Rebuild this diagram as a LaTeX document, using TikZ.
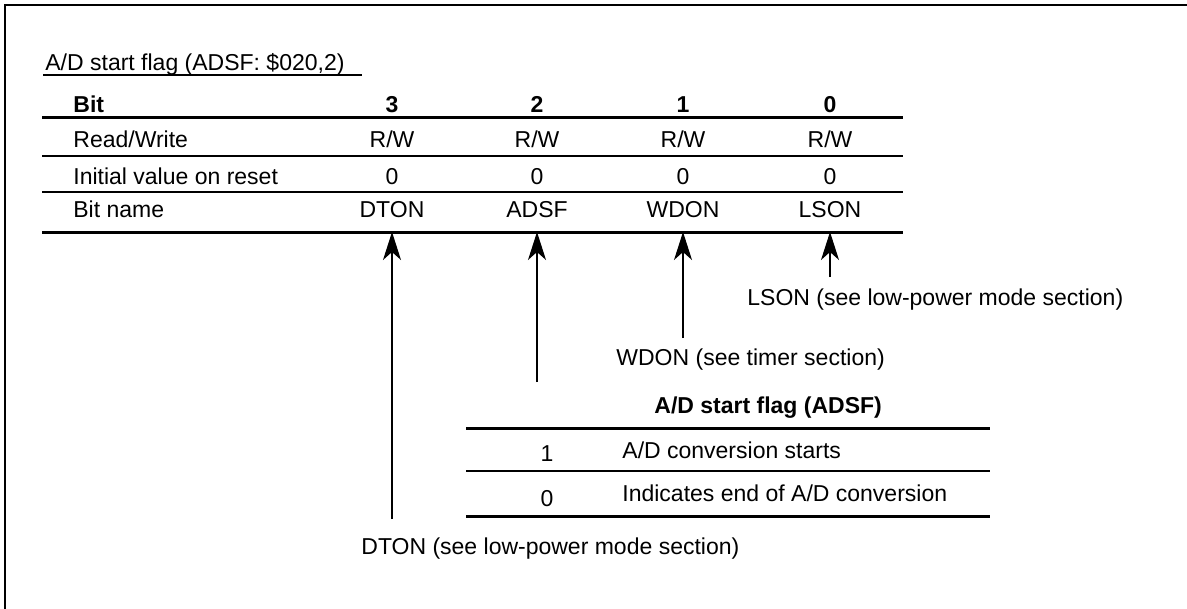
\documentclass[tikz,border=0pt]{standalone}
\usepackage{fontspec}
\setmainfont{Liberation Sans}
\usetikzlibrary{arrows.meta}

\begin{document}
\begin{tikzpicture}[
    x=0.5pt, y=-0.5pt,
    txt/.style={inner sep=0pt, text=black, font=\fontsize{11.5}{13}\selectfont},
    lbl/.style={txt, anchor=base west},
    val/.style={txt, anchor=base},
    hdr/.style={txt, font=\fontsize{11.5}{13}\selectfont\bfseries},
    heavy/.style={line width=1.5pt},
    light/.style={line width=0.7pt},
    ptr/.style={-{Stealth[length=14pt, width=9pt, inset=4pt]}, line width=0.6pt}
  ]
    \useasboundingbox (0,0) rectangle (1187,609);
    \draw[line width=1pt] (5,609) -- (5,5) -- (1187,5);

    % register title
    \node[lbl] (title) at (45,71) {A/D start flag (ADSF: \$020,2)};
    \draw[light] (43,75) -- (362,75);

    % register table
    \node[hdr, anchor=base west] (bithdr) at (73,113) {Bit};
    \node[lbl] (rwhdr) at (73,148) {Read/Write};
    \node[lbl] (inithdr) at (73,185) {Initial value on reset};
    \node[lbl] (namehdr) at (73,218) {Bit name};
    \foreach \x/\n in {392/3, 537/2, 683/1, 830/0} {
      \node[hdr, anchor=base] (bit\n) at (\x,113) {\n};
      \node[val] (rw\n) at (\x,148) {R/W};
      \node[val] (init\n) at (\x,185) {0};
    }
    \node[val] (nDTON) at (392,218) {DTON};
    \node[val] (nADSF) at (537,218) {ADSF};
    \node[val] (nWDON) at (683,218) {WDON};
    \node[val] (nLSON) at (830,218) {LSON};

    \draw[heavy] (42,118) -- (903,118);
    \draw[light] (42,156) -- (903,156);
    \draw[light] (42,192) -- (903,192);
    \draw[heavy] (42,232) -- (903,232);
    \coordinate (regbot) at (42,232);

    % pointers to the bits
    \coordinate (dtonfoot) at (392,519);
    \coordinate (adsffoot) at (537,382);
    \coordinate (wdonfoot) at (683,338);
    \coordinate (lsonfoot) at (830,277);
    \draw[ptr] (dtonfoot) -- (nDTON |- regbot);
    \draw[ptr] (adsffoot) -- (nADSF |- regbot);
    \draw[ptr] (wdonfoot) -- (nWDON |- regbot);
    \draw[ptr] (lsonfoot) -- (nLSON |- regbot);

    \node[lbl] (lsonnote) at (747,305) {LSON (see low-power mode section)};
    \node[lbl] (wdonnote) at (616,365) {WDON (see timer section)};
    \node[lbl] (dtonnote) at (361,554) {DTON (see low-power mode section)};

    % ADSF values
    \node[hdr, anchor=base west] (adsfhdr) at (654,413) {A/D start flag (ADSF)};
    \draw[heavy] (466,428) -- (990,428);
    \draw[light] (466,471) -- (990,471);
    \draw[heavy] (466,516) -- (990,516);
    \node[val] (set1) at (547,461) {1};
    \node[lbl] (set1txt) at (622,458) {A/D conversion starts};
    \node[val] (set0) at (547,506) {0};
    \node[lbl] (set0txt) at (622,501) {Indicates end of A/D conversion};
\end{tikzpicture}
\end{document}
